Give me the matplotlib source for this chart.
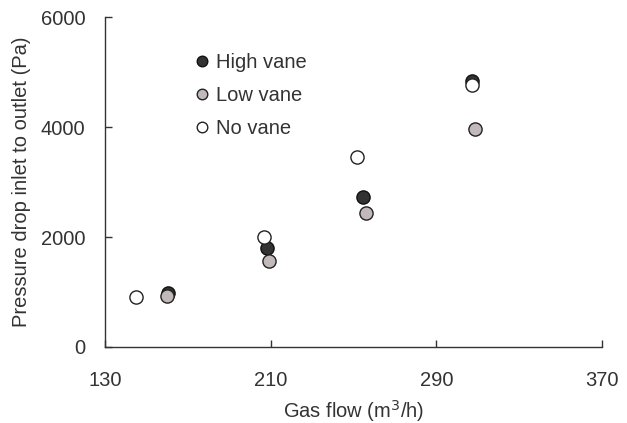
import matplotlib
matplotlib.use("Agg")
from matplotlib import pyplot as plt

plt.rcParams['font.family'] = ['Liberation Sans', 'DejaVu Sans']

# data
high_x = [160.4, 208.2, 254.5, 307.0]
high_y = [980, 1800, 2720, 4830]
low_x = [160.1, 209.2, 256.0, 308.7]
low_y = [920, 1570, 2430, 3970]
none_x = [144.9, 206.6, 251.8, 307.0]
none_y = [910, 2000, 3460, 4760]

xticks = [130, 210, 290, 370]
yticks = [0, 2000, 4000, 6000]

fs = 14.5
fig = plt.figure(figsize=(6.27, 4.23), dpi=100)
ax = fig.add_axes([105/627, 1-347/423, 497/627, 330/423])

ms = 9.5
ax.plot(high_x, high_y, 'o', ms=ms, mfc='#333333', mec='#111111', mew=1.0, label='High vane', zorder=3)
ax.plot(low_x, low_y, 'o', ms=ms, mfc='#c2baba', mec='#222222', mew=1.0, label='Low vane', zorder=3)
ax.plot(none_x, none_y, 'o', ms=ms, mfc='white', mec='#222222', mew=1.0, label='No vane', zorder=4)

ax.set_xlim(130, 370)
ax.set_ylim(0, 6000)
ax.set_xticks(xticks)
ax.set_yticks(yticks)
ax.spines['top'].set_visible(False)
ax.spines['right'].set_visible(False)
for s in ['left', 'bottom']:
    ax.spines[s].set_color('#333333')
    ax.spines[s].set_linewidth(1.0)
ax.tick_params(direction='in', length=5, width=1.0, color='#333333',
               labelsize=fs, labelcolor='#333333')
ax.tick_params(axis='x', pad=17)
ax.tick_params(axis='y', pad=14)

ax.set_xlabel('Gas flow (m$^3$/h)', fontsize=fs, color='#333333', labelpad=6)
ax.set_ylabel('Pressure drop inlet to outlet (Pa)', fontsize=fs, color='#333333', labelpad=7)

leg = ax.legend(loc='upper left', bbox_to_anchor=(0.175, 0.89), frameon=False,
                fontsize=fs, handletextpad=0.2, labelspacing=0.7, markerscale=0.8,
                handlelength=1.0, borderaxespad=0, borderpad=0)
for t in leg.get_texts():
    t.set_color('#333333')

fig.savefig('out.png', dpi=100)
